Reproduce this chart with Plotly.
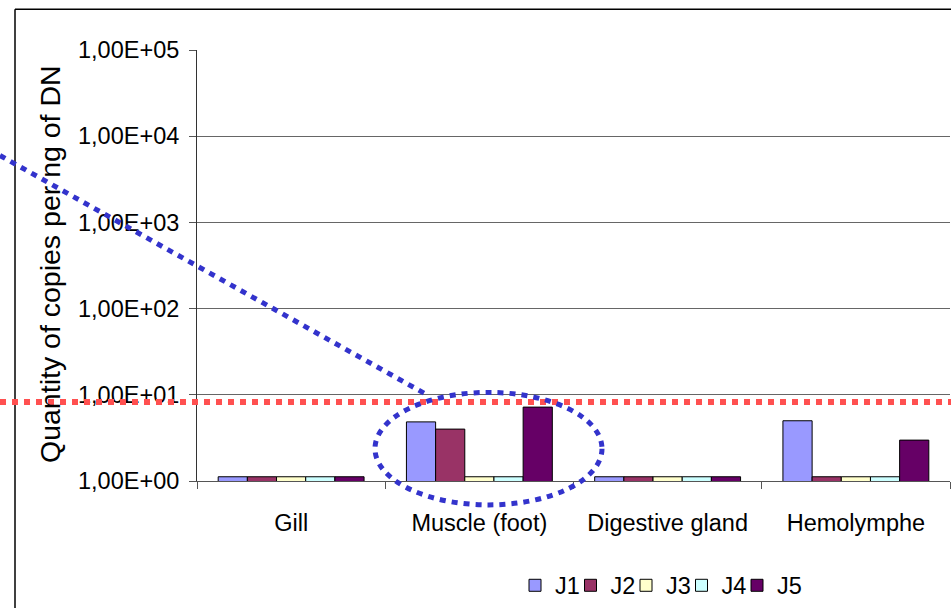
import math
import plotly.graph_objects as go

# Tissues and series (copies per ng of DNA, log scale)
categories = ["Gill", "Muscle (foot)", "Digestive gland", "Hemolymphe"]
series_names = ["J1", "J2", "J3", "J4", "J5"]
j1 = [1.12, 4.85, 1.12, 5.0]
j2 = [1.12, 4.0, 1.12, 1.12]
j3 = [1.12, 1.12, 1.12, 1.12]
j4 = [1.12, 1.12, 1.12, 1.12]
j5 = [1.12, 7.2, 1.12, 2.98]
threshold = 8.25
tick_vals = [1, 10, 100, 1000, 10000, 100000]
tick_text = ["1,00E+00", "1,00E+01", "1,00E+02", "1,00E+03", "1,00E+04", "1,00E+05"]

colors = ["#9999FF", "#993366", "#FFFFCC", "#CCFFFF", "#660066"]
FONT = "Liberation Sans, Arial, sans-serif"

W, H = 951, 608
ML, MR, MT, MB = 197, 1, 50, 125
PW, PH = W - ML - MR, H - MT - MB


def px(x):
    return (x - ML) / PW


def py(y):
    return (H - MB - y) / PH


fig = go.Figure()
for i, (name, vals, col) in enumerate(zip(series_names, [j1, j2, j3, j4, j5], colors)):
    fig.add_trace(go.Bar(
        x=categories, y=vals, name=name,
        marker=dict(color=col, line=dict(color="#000000", width=1)),
        legendwidth=30 if i == len(series_names) - 1 else 10.5,
    ))

shapes = []
# frame around the chart
shapes.append(dict(type="line", xref="paper", yref="paper",
                   x0=px(15), x1=px(15), y0=py(9), y1=py(H + 5),
                   line=dict(color="#000000", width=1.5)))
shapes.append(dict(type="line", xref="paper", yref="paper",
                   x0=px(15), x1=px(W + 5), y0=py(9), y1=py(9),
                   line=dict(color="#000000", width=1.5)))
# detection threshold
ty = math.log10(threshold) / 5
shapes.append(dict(type="line", xref="paper", yref="paper",
                   x0=px(0), x1=px(W), y0=ty, y1=ty,
                   line=dict(color="#FF5050", width=6, dash="6px,6px")))
# highlight around the muscle group
shapes.append(dict(type="circle", xref="paper", yref="paper",
                   x0=px(375), x1=px(602), y0=py(394), y1=py(507),
                   line=dict(color="#3333CC", width=5, dash="6px,6px")))
shapes.append(dict(type="line", xref="paper", yref="paper",
                   x0=px(0), x1=px(428), y0=py(156), y1=py(397),
                   line=dict(color="#3333CC", width=5, dash="6px,6px")))

fig.update_layout(
    width=W, height=H,
    margin=dict(l=ML, r=MR, t=MT, b=MB, pad=0),
    paper_bgcolor="#FFFFFF", plot_bgcolor="#FFFFFF",
    font=dict(family=FONT, size=23.5, color="#000000"),
    barmode="group", bargap=0.225, bargroupgap=0,
    showlegend=True,
    legend=dict(orientation="h", x=px(515), xanchor="left",
                y=py(588), yanchor="middle",
                font=dict(family=FONT, size=23.5, color="#000000"),
                entrywidthmode="pixels",
                bgcolor="rgba(0,0,0,0)", traceorder="normal"),
    shapes=shapes,
    annotations=[dict(text="Quantity of copies per ng of DN", textangle=-90,
                      xref="paper", yref="paper", x=px(50), y=py(265),
                      xanchor="center", yanchor="middle", showarrow=False,
                      font=dict(family=FONT, size=28.5, color="#000000"))],
)

fig.update_xaxes(
    type="category", showgrid=False, showline=True, linecolor="#555555", linewidth=1,
    ticks="outside", tickson="boundaries", ticklen=7, tickcolor="#555555",
    ticklabelstandoff=21, tickfont=dict(family=FONT, size=23.5, color="#000000"),
)
fig.update_yaxes(
    type="log", range=[0, 5], showgrid=True, gridcolor="#666666", gridwidth=1,
    showline=True, linecolor="#333333", linewidth=1,
    ticks="outside", ticklen=7, tickcolor="#555555",
    tickvals=tick_vals, ticktext=tick_text, ticklabelstandoff=5,
    tickfont=dict(family=FONT, size=23.5, color="#000000"), zeroline=False,
)

fig.write_html("out.html")
